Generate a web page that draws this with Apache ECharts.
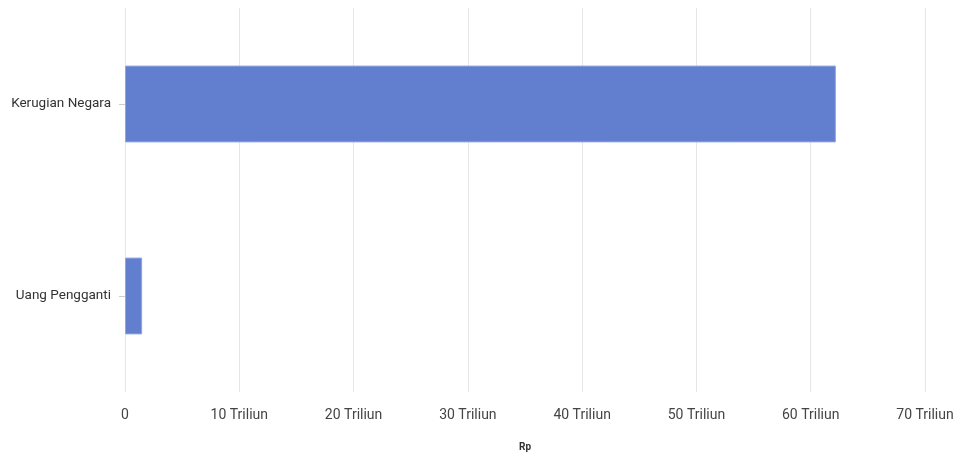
<!DOCTYPE html>
<html>
<head>
<meta charset="UTF-8">
<script src="https://cdn.jsdelivr.net/npm/echarts@6/dist/echarts.min.js"></script>
<style>
    html, body { margin: 0; padding: 0; background: #fff; }
    #container { width: 955px; height: 452px; }
</style>
</head>
<body>
<div id="container"></div>
<script>
    // data
    let categories = ['Uang Pengganti', 'Kerugian Negara'];
    let values = [1.5, 62.2]; // triliun rupiah
    let xTicks = [0, 10, 20, 30, 40, 50, 60, 70];

    let myChart = echarts.init(document.getElementById('container'));
    let option = {
        animation: false,
        textStyle: { fontFamily: 'Roboto' },
        grid: {
            left: 125,
            right: 30,
            top: 8,
            bottom: 60,
            containLabel: false,
            outerBoundsMode: 'none'
        },
        xAxis: {
            type: 'value',
            min: xTicks[0],
            max: xTicks[xTicks.length - 1],
            interval: 10,
            name: 'Rp',
            nameLocation: 'middle',
            nameGap: 50,
            nameTextStyle: { fontSize: 10, fontWeight: 'bold', color: '#333' },
            axisLine: { show: false },
            axisTick: { show: false },
            axisLabel: {
                fontSize: 14,
                color: '#444',
                margin: 16,
                formatter: function (v) {
                    return v === 0 ? '0' : v + ' Triliun';
                }
            },
            splitLine: { lineStyle: { color: '#e6e6e6' } }
        },
        yAxis: {
            type: 'category',
            data: categories,
            axisLine: { show: false },
            axisTick: { show: true, length: 6, alignWithLabel: true, lineStyle: { color: '#ccc' } },
            axisLabel: { fontSize: 13.5, color: '#333', margin: 14 }
        },
        series: [{
            type: 'bar',
            data: values,
            barWidth: '40%',
            itemStyle: {
                color: '#617ecf',
                borderColor: '#90a4e0',
                borderWidth: 1
            }
        }]
    };
    myChart.setOption(option);
</script>
</body>
</html>
